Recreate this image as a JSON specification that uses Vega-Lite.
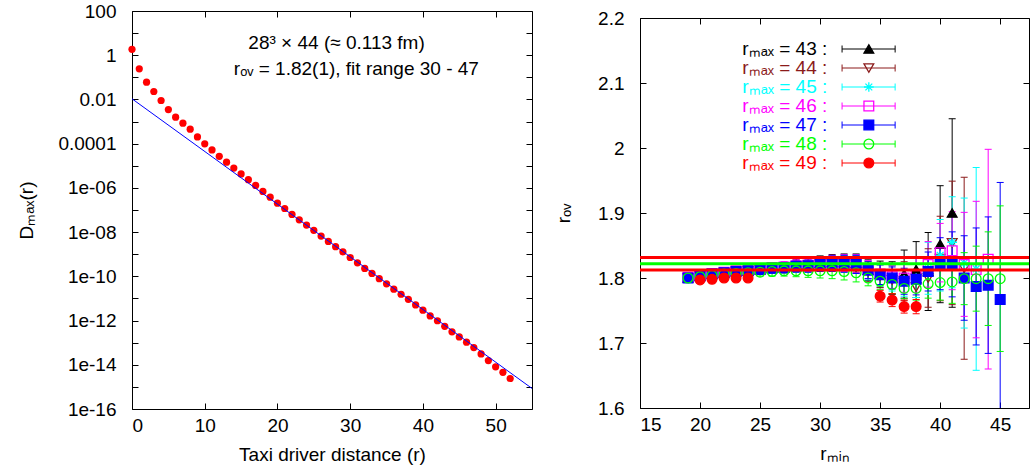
{
 "$schema": "https://vega.github.io/schema/vega-lite/v6.json",
 "padding": {"left": 17, "top": 1, "right": 0, "bottom": 0},
 "spacing": 21,
 "config": {
  "font": "Liberation Sans",
  "view": {"stroke": "black", "strokeWidth": 1},
  "axis": {"domain": false, "grid": false, "tickColor": "black", "tickSize": -6, "tickWidth": 1, "labelColor": "black", "titleColor": "black", "labelFont": "Liberation Sans", "labelFontSize": 19, "titleFont": "Liberation Sans", "titleFontSize": 19, "titleFontWeight": "normal", "labelPadding": 22}
 },
 "datasets": {
  "decay": [
   {"r":0,"D":1.84},{"r":1,"D":0.243},{"r":2,"D":0.0607},{"r":3,"D":0.0229},{"r":4,"D":0.00897},{"r":5,"D":0.0035},{"r":6,"D":0.00158},{"r":7,"D":0.000841},{"r":8,"D":0.00045},{"r":9,"D":0.000202},
   {"r":10,"D":9.8e-5},{"r":11,"D":5.19e-5},{"r":12,"D":2.69e-5},{"r":13,"D":1.45e-5},{"r":14,"D":7.9e-6},{"r":15,"D":4.27e-6},{"r":16,"D":2.34e-6},{"r":17,"D":1.29e-6},{"r":18,"D":6.9e-7},{"r":19,"D":3.8e-7},
   {"r":20,"D":2.04e-7},{"r":21,"D":1.17e-7},{"r":22,"D":6.3e-8},{"r":23,"D":3.6e-8},{"r":24,"D":2.09e-8},{"r":25,"D":1.2e-8},{"r":26,"D":6.6e-9},{"r":27,"D":3.8e-9},{"r":28,"D":2.19e-9},{"r":29,"D":1.29e-9},
   {"r":30,"D":7.1e-10},{"r":31,"D":4.07e-10},{"r":32,"D":2.29e-10},{"r":33,"D":1.35e-10},{"r":34,"D":7.8e-11},{"r":35,"D":4.57e-11},{"r":36,"D":2.63e-11},{"r":37,"D":1.55e-11},{"r":38,"D":9.1e-12},{"r":39,"D":5.1e-12},
   {"r":40,"D":2.95e-12},{"r":41,"D":1.62e-12},{"r":42,"D":9.8e-13},{"r":43,"D":5.5e-13},{"r":44,"D":3.09e-13},{"r":45,"D":1.82e-13},{"r":46,"D":1.05e-13},{"r":47,"D":6.0e-14},{"r":48,"D":3.09e-14},{"r":49,"D":1.55e-14},
   {"r":50,"D":8.1e-15},{"r":51,"D":4.57e-15},{"r":52,"D":2.4e-15}
  ],
  "fit": [{"r":0,"D":0.0107},{"r":55,"D":8.5e-16}],
  "pts": [
   {"s":43,"r":19,"v":1.800,"lo":1.797,"hi":1.803},{"s":43,"r":20,"v":1.803,"lo":1.800,"hi":1.806},{"s":43,"r":21,"v":1.806,"lo":1.802,"hi":1.810},{"s":43,"r":22,"v":1.808,"lo":1.804,"hi":1.812},{"s":43,"r":23,"v":1.810,"lo":1.805,"hi":1.815},{"s":43,"r":24,"v":1.811,"lo":1.806,"hi":1.816},{"s":43,"r":25,"v":1.813,"lo":1.807,"hi":1.819},{"s":43,"r":26,"v":1.815,"lo":1.808,"hi":1.822},{"s":43,"r":27,"v":1.816,"lo":1.808,"hi":1.824},{"s":43,"r":28,"v":1.820,"lo":1.811,"hi":1.829},{"s":43,"r":29,"v":1.821,"lo":1.811,"hi":1.831},{"s":43,"r":30,"v":1.823,"lo":1.812,"hi":1.834},{"s":43,"r":31,"v":1.824,"lo":1.812,"hi":1.836},{"s":43,"r":32,"v":1.824,"lo":1.811,"hi":1.837},{"s":43,"r":33,"v":1.823,"lo":1.809,"hi":1.837},{"s":43,"r":34,"v":1.812,"lo":1.796,"hi":1.828},{"s":43,"r":35,"v":1.806,"lo":1.786,"hi":1.826},{"s":43,"r":36,"v":1.800,"lo":1.775,"hi":1.825},{"s":43,"r":37,"v":1.806,"lo":1.769,"hi":1.843},{"s":43,"r":38,"v":1.813,"lo":1.770,"hi":1.856},{"s":43,"r":39,"v":1.810,"lo":1.750,"hi":1.870},{"s":43,"r":40,"v":1.852,"lo":1.762,"hi":1.942},{"s":43,"r":41,"v":1.900,"lo":1.755,"hi":2.045},
   {"s":44,"r":19,"v":1.800,"lo":1.797,"hi":1.803},{"s":44,"r":20,"v":1.803,"lo":1.800,"hi":1.806},{"s":44,"r":21,"v":1.806,"lo":1.802,"hi":1.810},{"s":44,"r":22,"v":1.808,"lo":1.804,"hi":1.812},{"s":44,"r":23,"v":1.810,"lo":1.805,"hi":1.815},{"s":44,"r":24,"v":1.811,"lo":1.806,"hi":1.816},{"s":44,"r":25,"v":1.813,"lo":1.807,"hi":1.819},{"s":44,"r":26,"v":1.815,"lo":1.808,"hi":1.822},{"s":44,"r":27,"v":1.816,"lo":1.808,"hi":1.824},{"s":44,"r":28,"v":1.818,"lo":1.809,"hi":1.827},{"s":44,"r":29,"v":1.819,"lo":1.809,"hi":1.829},{"s":44,"r":30,"v":1.821,"lo":1.810,"hi":1.832},{"s":44,"r":31,"v":1.822,"lo":1.810,"hi":1.834},{"s":44,"r":32,"v":1.822,"lo":1.809,"hi":1.835},{"s":44,"r":33,"v":1.821,"lo":1.807,"hi":1.835},{"s":44,"r":34,"v":1.810,"lo":1.795,"hi":1.825},{"s":44,"r":35,"v":1.803,"lo":1.785,"hi":1.821},{"s":44,"r":36,"v":1.797,"lo":1.775,"hi":1.819},{"s":44,"r":37,"v":1.795,"lo":1.765,"hi":1.825},{"s":44,"r":38,"v":1.786,"lo":1.751,"hi":1.821},{"s":44,"r":39,"v":1.800,"lo":1.755,"hi":1.845},{"s":44,"r":40,"v":1.830,"lo":1.765,"hi":1.895},{"s":44,"r":41,"v":1.854,"lo":1.759,"hi":1.949},{"s":44,"r":42,"v":1.815,"lo":1.675,"hi":1.955},
   {"s":45,"r":19,"v":1.800,"lo":1.797,"hi":1.803},{"s":45,"r":20,"v":1.803,"lo":1.800,"hi":1.806},{"s":45,"r":21,"v":1.806,"lo":1.802,"hi":1.810},{"s":45,"r":22,"v":1.808,"lo":1.804,"hi":1.812},{"s":45,"r":23,"v":1.810,"lo":1.805,"hi":1.815},{"s":45,"r":24,"v":1.811,"lo":1.806,"hi":1.816},{"s":45,"r":25,"v":1.813,"lo":1.807,"hi":1.819},{"s":45,"r":26,"v":1.815,"lo":1.808,"hi":1.822},{"s":45,"r":27,"v":1.816,"lo":1.808,"hi":1.824},{"s":45,"r":28,"v":1.818,"lo":1.809,"hi":1.827},{"s":45,"r":29,"v":1.819,"lo":1.809,"hi":1.829},{"s":45,"r":30,"v":1.821,"lo":1.810,"hi":1.832},{"s":45,"r":31,"v":1.822,"lo":1.810,"hi":1.834},{"s":45,"r":32,"v":1.822,"lo":1.809,"hi":1.835},{"s":45,"r":33,"v":1.821,"lo":1.807,"hi":1.835},{"s":45,"r":34,"v":1.812,"lo":1.797,"hi":1.827},{"s":45,"r":35,"v":1.805,"lo":1.788,"hi":1.822},{"s":45,"r":36,"v":1.800,"lo":1.780,"hi":1.820},{"s":45,"r":37,"v":1.797,"lo":1.772,"hi":1.822},{"s":45,"r":38,"v":1.800,"lo":1.770,"hi":1.830},{"s":45,"r":39,"v":1.815,"lo":1.775,"hi":1.855},{"s":45,"r":40,"v":1.835,"lo":1.780,"hi":1.890},{"s":45,"r":41,"v":1.855,"lo":1.785,"hi":1.925},{"s":45,"r":42,"v":1.823,"lo":1.723,"hi":1.923},{"s":45,"r":43,"v":1.814,"lo":1.658,"hi":1.970},
   {"s":46,"r":19,"v":1.801,"lo":1.798,"hi":1.804},{"s":46,"r":20,"v":1.804,"lo":1.801,"hi":1.807},{"s":46,"r":21,"v":1.807,"lo":1.803,"hi":1.811},{"s":46,"r":22,"v":1.809,"lo":1.805,"hi":1.813},{"s":46,"r":23,"v":1.811,"lo":1.806,"hi":1.816},{"s":46,"r":24,"v":1.812,"lo":1.807,"hi":1.817},{"s":46,"r":25,"v":1.814,"lo":1.808,"hi":1.820},{"s":46,"r":26,"v":1.816,"lo":1.809,"hi":1.823},{"s":46,"r":27,"v":1.817,"lo":1.809,"hi":1.825},{"s":46,"r":28,"v":1.819,"lo":1.810,"hi":1.828},{"s":46,"r":29,"v":1.820,"lo":1.810,"hi":1.830},{"s":46,"r":30,"v":1.822,"lo":1.811,"hi":1.833},{"s":46,"r":31,"v":1.823,"lo":1.811,"hi":1.835},{"s":46,"r":32,"v":1.823,"lo":1.810,"hi":1.836},{"s":46,"r":33,"v":1.822,"lo":1.808,"hi":1.836},{"s":46,"r":34,"v":1.813,"lo":1.799,"hi":1.827},{"s":46,"r":35,"v":1.806,"lo":1.790,"hi":1.822},{"s":46,"r":36,"v":1.802,"lo":1.784,"hi":1.820},{"s":46,"r":37,"v":1.800,"lo":1.778,"hi":1.822},{"s":46,"r":38,"v":1.805,"lo":1.778,"hi":1.832},{"s":46,"r":39,"v":1.821,"lo":1.786,"hi":1.856},{"s":46,"r":40,"v":1.839,"lo":1.794,"hi":1.884},{"s":46,"r":41,"v":1.842,"lo":1.782,"hi":1.902},{"s":46,"r":42,"v":1.821,"lo":1.741,"hi":1.901},{"s":46,"r":43,"v":1.813,"lo":1.708,"hi":1.918},{"s":46,"r":44,"v":1.829,"lo":1.660,"hi":1.998},
   {"s":47,"r":19,"v":1.800,"lo":1.797,"hi":1.803},{"s":47,"r":20,"v":1.803,"lo":1.800,"hi":1.806},{"s":47,"r":21,"v":1.806,"lo":1.802,"hi":1.810},{"s":47,"r":22,"v":1.808,"lo":1.804,"hi":1.812},{"s":47,"r":23,"v":1.810,"lo":1.805,"hi":1.815},{"s":47,"r":24,"v":1.811,"lo":1.806,"hi":1.816},{"s":47,"r":25,"v":1.813,"lo":1.807,"hi":1.819},{"s":47,"r":26,"v":1.815,"lo":1.808,"hi":1.822},{"s":47,"r":27,"v":1.816,"lo":1.808,"hi":1.824},{"s":47,"r":28,"v":1.818,"lo":1.809,"hi":1.827},{"s":47,"r":29,"v":1.819,"lo":1.809,"hi":1.829},{"s":47,"r":30,"v":1.821,"lo":1.810,"hi":1.832},{"s":47,"r":31,"v":1.822,"lo":1.810,"hi":1.834},{"s":47,"r":32,"v":1.822,"lo":1.809,"hi":1.835},{"s":47,"r":33,"v":1.821,"lo":1.807,"hi":1.835},{"s":47,"r":34,"v":1.812,"lo":1.799,"hi":1.825},{"s":47,"r":35,"v":1.805,"lo":1.790,"hi":1.820},{"s":47,"r":36,"v":1.800,"lo":1.783,"hi":1.817},{"s":47,"r":37,"v":1.795,"lo":1.775,"hi":1.815},{"s":47,"r":38,"v":1.798,"lo":1.774,"hi":1.822},{"s":47,"r":39,"v":1.810,"lo":1.780,"hi":1.840},{"s":47,"r":40,"v":1.822,"lo":1.782,"hi":1.862},{"s":47,"r":41,"v":1.821,"lo":1.771,"hi":1.871},{"s":47,"r":42,"v":1.800,"lo":1.735,"hi":1.865},{"s":47,"r":43,"v":1.787,"lo":1.697,"hi":1.877},{"s":47,"r":44,"v":1.789,"lo":1.684,"hi":1.894},{"s":47,"r":45,"v":1.767,"lo":1.587,"hi":1.947},
   {"s":48,"r":19,"v":1.800,"lo":1.797,"hi":1.803},{"s":48,"r":20,"v":1.802,"lo":1.799,"hi":1.805},{"s":48,"r":21,"v":1.804,"lo":1.800,"hi":1.808},{"s":48,"r":22,"v":1.806,"lo":1.802,"hi":1.810},{"s":48,"r":23,"v":1.807,"lo":1.802,"hi":1.812},{"s":48,"r":24,"v":1.808,"lo":1.803,"hi":1.813},{"s":48,"r":25,"v":1.809,"lo":1.803,"hi":1.815},{"s":48,"r":26,"v":1.810,"lo":1.803,"hi":1.817},{"s":48,"r":27,"v":1.811,"lo":1.803,"hi":1.819},{"s":48,"r":28,"v":1.811,"lo":1.802,"hi":1.820},{"s":48,"r":29,"v":1.811,"lo":1.801,"hi":1.821},{"s":48,"r":30,"v":1.811,"lo":1.800,"hi":1.822},{"s":48,"r":31,"v":1.811,"lo":1.799,"hi":1.823},{"s":48,"r":32,"v":1.810,"lo":1.797,"hi":1.823},{"s":48,"r":33,"v":1.808,"lo":1.794,"hi":1.822},{"s":48,"r":34,"v":1.800,"lo":1.788,"hi":1.812},{"s":48,"r":35,"v":1.795,"lo":1.782,"hi":1.808},{"s":48,"r":36,"v":1.790,"lo":1.776,"hi":1.804},{"s":48,"r":37,"v":1.784,"lo":1.768,"hi":1.800},{"s":48,"r":38,"v":1.784,"lo":1.766,"hi":1.802},{"s":48,"r":39,"v":1.791,"lo":1.769,"hi":1.813},{"s":48,"r":40,"v":1.793,"lo":1.766,"hi":1.820},{"s":48,"r":41,"v":1.794,"lo":1.761,"hi":1.827},{"s":48,"r":42,"v":1.799,"lo":1.759,"hi":1.839},{"s":48,"r":43,"v":1.799,"lo":1.749,"hi":1.849},{"s":48,"r":44,"v":1.799,"lo":1.727,"hi":1.871},{"s":48,"r":45,"v":1.799,"lo":1.687,"hi":1.911},
   {"s":49,"r":20,"v":1.797,"lo":1.794,"hi":1.800},{"s":49,"r":21,"v":1.798,"lo":1.795,"hi":1.801},{"s":49,"r":22,"v":1.800,"lo":1.797,"hi":1.803},{"s":49,"r":23,"v":1.800,"lo":1.797,"hi":1.803},{"s":49,"r":24,"v":1.800,"lo":1.797,"hi":1.803},{"s":49,"r":35,"v":1.772,"lo":1.763,"hi":1.781},{"s":49,"r":36,"v":1.766,"lo":1.756,"hi":1.776},{"s":49,"r":37,"v":1.756,"lo":1.746,"hi":1.766},{"s":49,"r":38,"v":1.756,"lo":1.745,"hi":1.767}
  ],
  "redlines": [{"v":1.8315},{"v":1.8125}],
  "greenline": [{"v":1.822}],
  "leg": [
   {"s":43,"label":"rₘₐₓ = 43 :"},{"s":44,"label":"rₘₐₓ = 44 :"},{"s":45,"label":"rₘₐₓ = 45 :"},{"s":46,"label":"rₘₐₓ = 46 :"},{"s":47,"label":"rₘₐₓ = 47 :"},{"s":48,"label":"rₘₐₓ = 48 :"},{"s":49,"label":"rₘₐₓ = 49 :"}
  ]
 },
 "hconcat": [
  {
   "width": 400, "height": 398,
   "layer": [
    {"data": {"name": "decay"},
     "mark": {"type": "circle", "size": 52, "color": "#ff0000", "opacity": 1},
     "encoding": {
      "x": {"field": "r", "type": "quantitative", "scale": {"domain": [0, 55], "nice": false, "zero": false},
            "axis": {"orient": "bottom", "values": [0,10,20,30,40,50], "title": "Taxi driver distance (r)", "titlePadding": 10, "labelPadding": 13}},
      "y": {"field": "D", "type": "quantitative", "scale": {"type": "log", "domain": [1e-16, 100], "nice": false},
            "axis": {"orient": "left", "values": [1e-16,1e-15,1e-14,1e-13,1e-12,1e-11,1e-10,1e-9,1e-8,1e-7,1e-6,1e-5,1e-4,1e-3,1e-2,1e-1,1,10,100],
                     "labelExpr": "round(log(datum.value)/LN10) % 2 != 0 ? '' : round(log(datum.value)/LN10) == 2 ? '100' : round(log(datum.value)/LN10) == 0 ? '1' : round(log(datum.value)/LN10) == -2 ? '0.01' : round(log(datum.value)/LN10) == -4 ? '0.0001' : round(log(datum.value)/LN10) > -10 ? '1e-0' + (-round(log(datum.value)/LN10)) : '1e' + round(log(datum.value)/LN10)",
                     "title": "Dₘₐₓ(r)", "titlePadding": 21}}
     }},
    {"data": {"name": "fit"},
     "mark": {"type": "line", "color": "#0000ff", "strokeWidth": 1, "clip": true},
     "encoding": {
      "x": {"field": "r", "type": "quantitative", "axis": {"orient": "top", "labels": false, "title": null, "values": [0,10,20,30,40,50]}},
      "y": {"field": "D", "type": "quantitative", "axis": {"orient": "right", "labels": false, "title": null, "values": [1e-16,1e-15,1e-14,1e-13,1e-12,1e-11,1e-10,1e-9,1e-8,1e-7,1e-6,1e-5,1e-4,1e-3,1e-2,1e-1,1,10,100]}}
     }},
    {"data": {"values": [{}]},
     "mark": {"type": "text", "text": "28³ × 44 (≈ 0.113 fm)", "align": "left", "baseline": "middle", "fontSize": 19, "font": "Liberation Sans", "color": "black"},
     "encoding": {"x": {"datum": 16.0, "type": "quantitative", "axis": null}, "y": {"datum": 3.67, "type": "quantitative", "axis": null}}},
    {"data": {"values": [{}]},
     "mark": {"type": "text", "text": "rₒᵥ = 1.82(1), fit range 30 - 47", "align": "left", "baseline": "middle", "fontSize": 19, "font": "Liberation Sans", "color": "black"},
     "encoding": {"x": {"datum": 14.0, "type": "quantitative", "axis": null}, "y": {"datum": 0.235, "type": "quantitative", "axis": null}}}
   ],
   "resolve": {"axis": {"x": "independent", "y": "independent"}}
  },
  {
   "vconcat": [
    {"width": 389, "height": 7, "view": {"stroke": null}, "data": {"values": [{}]}, "mark": {"type": "point", "opacity": 0}, "encoding": {}},
    {
     "width": 389, "height": 390,
     "layer": [
      {
       "layer": [
        {"data": {"name": "pts"},
         "mark": {"type": "rule", "strokeWidth": 1, "clip": true},
         "encoding": {
          "x": {"field": "r", "type": "quantitative", "scale": {"domain": [15, 47.4], "nice": false, "zero": false},
                "axis": {"orient": "bottom", "values": [15,20,25,30,35,40,45], "title": "rₘᵢₙ", "titlePadding": 10, "labelPadding": 13}},
          "y": {"field": "lo", "type": "quantitative", "scale": {"domain": [1.6, 2.2], "nice": false, "zero": false},
                "axis": {"orient": "left", "values": [1.6,1.7,1.8,1.9,2,2.1,2.2], "labelExpr": "format(datum.value, '~g')", "title": "rₒᵥ", "titlePadding": 24}},
          "y2": {"field": "hi"},
          "stroke": {"field": "s", "type": "nominal", "legend": null, "scale": {"domain": [43,44,45,46,47,48,49], "range": ["black","#8b1a1a","#00ffff","#ff00ff","#0000ff","#00ff00","#ff0000"]}}
         }},
        {"data": {"name": "pts"},
         "mark": {"type": "tick", "orient": "horizontal", "size": 7, "thickness": 1, "clip": true, "opacity": 1},
         "encoding": {
          "x": {"field": "r", "type": "quantitative", "axis": null},
          "y": {"field": "lo", "type": "quantitative", "axis": null},
          "color": {"field": "s", "type": "nominal", "legend": null, "scale": {"domain": [43,44,45,46,47,48,49], "range": ["black","#8b1a1a","#00ffff","#ff00ff","#0000ff","#00ff00","#ff0000"]}}
         }},
        {"data": {"name": "pts"},
         "mark": {"type": "tick", "orient": "horizontal", "size": 7, "thickness": 1, "clip": true, "opacity": 1},
         "encoding": {
          "x": {"field": "r", "type": "quantitative", "axis": null},
          "y": {"field": "hi", "type": "quantitative", "axis": null},
          "color": {"field": "s", "type": "nominal", "legend": null}
         }},
        {"data": {"name": "pts"},
         "mark": {"type": "point", "size": 95, "strokeWidth": 1.3, "opacity": 1},
         "encoding": {
          "x": {"field": "r", "type": "quantitative", "axis": {"orient": "top", "labels": false, "title": null, "values": [15,20,25,30,35,40,45]}},
          "y": {"field": "v", "type": "quantitative", "axis": {"orient": "right", "labels": false, "title": null, "values": [1.6,1.7,1.8,1.9,2,2.1,2.2]}},
          "stroke": {"field": "s", "type": "nominal", "legend": null},
          "fill": {"field": "s", "type": "nominal", "legend": null, "scale": {"domain": [43,44,45,46,47,48,49], "range": ["black","transparent","transparent","transparent","#0000ff","transparent","#ff0000"]}},
          "shape": {"field": "s", "type": "nominal", "legend": null, "scale": {"domain": [43,44,45,46,47,48,49], "range": ["triangle-up","triangle-down","M-1,0L1,0M0,-1L0,1M-0.7,-0.7L0.7,0.7M-0.7,0.7L0.7,-0.7","square","square","circle","circle"]}}
         }},
        {"data": {"name": "redlines"},
         "mark": {"type": "rule", "color": "#ff0000", "strokeWidth": 3},
         "encoding": {"y": {"field": "v", "type": "quantitative", "axis": null}}},
        {"data": {"name": "greenline"},
         "mark": {"type": "rule", "color": "#00ff00", "strokeWidth": 3},
         "encoding": {"y": {"field": "v", "type": "quantitative", "axis": null}}}
       ],
       "resolve": {"axis": {"x": "independent", "y": "independent"}}
      },
      {
       "data": {"name": "leg"},
       "encoding": {
        "y": {"field": "s", "type": "ordinal", "axis": null, "scale": {"type": "point", "domain": [43,44,45,46,47,48,49], "range": [31, 145], "padding": 0}}
       },
       "layer": [
        {"mark": {"type": "text", "align": "right", "baseline": "middle", "fontSize": 19, "font": "Liberation Sans"},
         "encoding": {"x": {"datum": 30.6, "type": "quantitative", "axis": null}, "text": {"field": "label"},
                      "color": {"field": "s", "type": "nominal", "legend": null}}},
        {"mark": {"type": "rule", "strokeWidth": 1},
         "encoding": {"x": {"datum": 31.83, "type": "quantitative", "axis": null}, "x2": {"datum": 36.25},
                      "stroke": {"field": "s", "type": "nominal", "legend": null}}},
        {"mark": {"type": "tick", "orient": "vertical", "size": 7, "thickness": 1, "opacity": 1},
         "encoding": {"x": {"datum": 31.83, "type": "quantitative", "axis": null},
                      "color": {"field": "s", "type": "nominal", "legend": null}}},
        {"mark": {"type": "tick", "orient": "vertical", "size": 7, "thickness": 1, "opacity": 1},
         "encoding": {"x": {"datum": 36.25, "type": "quantitative", "axis": null},
                      "color": {"field": "s", "type": "nominal", "legend": null}}},
        {"mark": {"type": "point", "size": 95, "strokeWidth": 1.3, "opacity": 1},
         "encoding": {"x": {"datum": 34.06, "type": "quantitative", "axis": null},
                      "stroke": {"field": "s", "type": "nominal", "legend": null},
                      "fill": {"field": "s", "type": "nominal", "legend": null},
                      "shape": {"field": "s", "type": "nominal", "legend": null}}}
       ]
      }
     ],
     "resolve": {"scale": {"y": "independent"}, "axis": {"x": "independent", "y": "independent"}}
    }
   ],
   "spacing": 0,
   "bounds": "flush"
  }
 ]
}
